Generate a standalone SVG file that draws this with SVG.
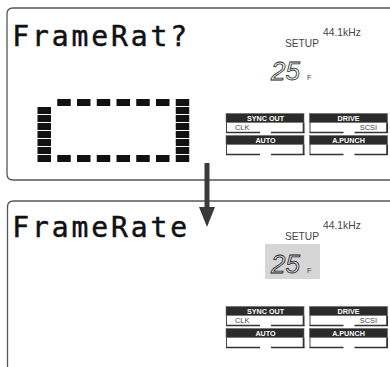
<svg xmlns="http://www.w3.org/2000/svg" xmlns:xlink="http://www.w3.org/1999/xlink" width="390" height="367" viewBox="0 0 390 367">
<style>
.panel{fill:#fff;stroke:#555;stroke-width:1.3}
.lcd{font-family:"DejaVu Sans Mono","Liberation Mono",monospace;font-size:28px;letter-spacing:2.9px;fill:#111;stroke:#111;stroke-width:0.5}
.lbl{font-family:"Liberation Sans",Arial,sans-serif;fill:#444}
.hdr{font-family:"Liberation Sans",Arial,sans-serif;font-weight:bold;font-size:7.2px;fill:#fff;text-anchor:middle}
.sub{font-family:"Liberation Sans",Arial,sans-serif;font-size:7.4px;fill:#444}
.seg{font-family:"Liberation Sans",Arial,sans-serif;font-style:italic;font-size:26px;fill:none;stroke:#222;stroke-width:0.8}
.blk{fill:#111}
.arrow{stroke:#3a3a3a;stroke-width:5;fill:none}
</style>
<defs>
<marker id="ah" viewBox="0 0 20 16" refX="0" refY="8" markerWidth="20" markerHeight="16" markerUnits="userSpaceOnUse" orient="auto">
<path d="M0,0 L20,8 L0,16 z" fill="#3a3a3a"/>
</marker>
<g id="btn">
<rect x="0" y="0" width="78" height="9" fill="#2b2b2b" stroke="#666" stroke-width="0.6"/>
<path d="M0.5,9 V19" stroke="#333" stroke-width="0.9" fill="none"/>
<path d="M77.6,9 V19.5" stroke="#333" stroke-width="1.8" fill="none"/>
<path d="M0,19 H34 M45,19 H78.5" stroke="#333" stroke-width="1.4" fill="none"/>
</g>
<g id="status">
<text class="lbl" x="323" y="36" font-size="10.3">44.1kHz</text>
<text class="lbl" x="285" y="47" font-size="10.2">SETUP</text>
<text class="seg" x="271" y="80">25</text>
<text class="lbl" x="307" y="80" font-size="7.5">F</text>
<use xlink:href="#btn" x="226" y="113.5"/>
<use xlink:href="#btn" x="309.5" y="113.5"/>
<use xlink:href="#btn" x="226" y="135.5"/>
<use xlink:href="#btn" x="309.5" y="135.5"/>
<text class="hdr" x="265.5" y="120.8">SYNC OUT</text>
<text class="hdr" x="348.5" y="120.8">DRIVE</text>
<text class="hdr" x="265.5" y="142.6">AUTO</text>
<text class="hdr" x="348.5" y="142.6">A.PUNCH</text>
<text class="sub" x="235" y="129.5">CLK</text>
<text class="sub" x="377" y="129.5" text-anchor="end">SCSI</text>
</g>
</defs>

<g id="panel-top">
<path class="panel" d="M392,8 H13 Q7,8 7,14 V174 Q7,180 13,180 H392"/>
<text class="lcd" x="12.3" y="45.5">FrameRat?</text>
<g id="frame-box">
<rect class="blk" x="57.25" y="99" width="13.5" height="7"/>
<rect class="blk" x="77" y="99" width="13.5" height="7"/>
<rect class="blk" x="96.75" y="99" width="13.5" height="7"/>
<rect class="blk" x="116.5" y="99" width="13.5" height="7"/>
<rect class="blk" x="136.25" y="99" width="13.5" height="7"/>
<rect class="blk" x="156" y="99" width="13.5" height="7"/>
<rect class="blk" x="57.25" y="155" width="13.5" height="7"/>
<rect class="blk" x="77" y="155" width="13.5" height="7"/>
<rect class="blk" x="96.75" y="155" width="13.5" height="7"/>
<rect class="blk" x="116.5" y="155" width="13.5" height="7"/>
<rect class="blk" x="136.25" y="155" width="13.5" height="7"/>
<rect class="blk" x="156" y="155" width="13.5" height="7"/>
<rect class="blk" x="37.5" y="107" width="13.5" height="7"/>
<rect class="blk" x="37.5" y="115" width="13.5" height="7"/>
<rect class="blk" x="37.5" y="123" width="13.5" height="7"/>
<rect class="blk" x="37.5" y="131" width="13.5" height="7"/>
<rect class="blk" x="37.5" y="139" width="13.5" height="7"/>
<rect class="blk" x="37.5" y="147" width="13.5" height="7"/>
<rect class="blk" x="37.5" y="155" width="13.5" height="7"/>
<rect class="blk" x="175.75" y="99" width="13.5" height="7"/>
<rect class="blk" x="175.75" y="107" width="13.5" height="7"/>
<rect class="blk" x="175.75" y="115" width="13.5" height="7"/>
<rect class="blk" x="175.75" y="123" width="13.5" height="7"/>
<rect class="blk" x="175.75" y="131" width="13.5" height="7"/>
<rect class="blk" x="175.75" y="139" width="13.5" height="7"/>
<rect class="blk" x="175.75" y="147" width="13.5" height="7"/>
<rect class="blk" x="175.75" y="155" width="13.5" height="7"/>
</g>
<use xlink:href="#status"/>
</g>

<g id="panel-bottom">
<path class="panel" d="M392,201 H13.5 Q7.5,201 7.5,207 V370" stroke="#444"/>
<text class="lcd" x="12.3" y="236.5">FrameRate</text>
<rect x="265" y="244" width="55" height="35" fill="#d6d6d6"/>
<use xlink:href="#status" y="193"/>
</g>

<g id="connectors">
<line class="arrow" x1="207" y1="163" x2="207" y2="207" marker-end="url(#ah)"/>
</g>
</svg>
